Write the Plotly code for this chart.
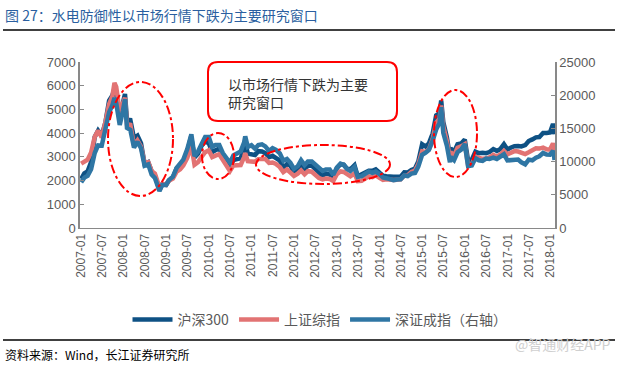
import plotly.graph_objects as go

dates = [
    "2007-01-04","2007-01-31","2007-02-28","2007-03-30","2007-04-30","2007-05-29","2007-06-29","2007-07-31","2007-08-31","2007-09-28","2007-10-16","2007-10-31","2007-11-30","2007-12-28",
    "2008-01-14","2008-01-31","2008-02-29","2008-03-31","2008-04-30","2008-05-30","2008-06-30","2008-07-31","2008-08-29","2008-09-26","2008-10-31","2008-11-04","2008-11-28","2008-12-31",
    "2009-01-23","2009-02-27","2009-03-31","2009-04-30","2009-05-27","2009-06-30","2009-07-31","2009-08-04","2009-08-31","2009-09-30","2009-10-30","2009-11-30","2009-12-31",
    "2010-01-29","2010-02-26","2010-03-31","2010-04-30","2010-05-31","2010-06-30","2010-07-30","2010-08-31","2010-09-30","2010-10-29","2010-11-08","2010-11-30","2010-12-31",
    "2011-01-31","2011-02-28","2011-03-31","2011-04-29","2011-05-31","2011-06-30","2011-07-29","2011-08-31","2011-09-30","2011-10-31","2011-11-30","2011-12-30",
    "2012-01-31","2012-02-29","2012-03-30","2012-04-27","2012-05-31","2012-06-29","2012-07-31","2012-08-31","2012-09-28","2012-10-31","2012-11-30","2012-12-31",
    "2013-01-31","2013-02-28","2013-03-29","2013-04-26","2013-05-31","2013-06-28","2013-07-31","2013-08-30","2013-09-30","2013-10-31","2013-11-29","2013-12-31",
    "2014-01-30","2014-02-28","2014-03-31","2014-04-30","2014-05-30","2014-06-30","2014-07-31","2014-08-29","2014-09-30","2014-10-31","2014-11-28","2014-12-31",
    "2015-01-30","2015-02-27","2015-03-31","2015-04-30","2015-05-29","2015-06-12","2015-06-30","2015-07-31","2015-08-26","2015-08-31","2015-09-30","2015-10-30","2015-11-30","2015-12-31",
    "2016-01-28","2016-02-29","2016-03-31","2016-04-29","2016-05-31","2016-06-30","2016-07-29","2016-08-31","2016-09-30","2016-10-31","2016-11-30","2016-12-30",
    "2017-01-26","2017-02-28","2017-03-31","2017-04-28","2017-05-31","2017-06-30","2017-07-31","2017-08-31","2017-09-29","2017-10-31","2017-11-30","2017-12-29",
    "2018-01-24","2018-01-31","2018-02-06",
]

hs300 = [
    2067,2300,2390,2780,3840,4110,3900,4470,5370,5590,5877,5690,4730,5338,
    5650,4570,4556,3790,3894,3578,2700,2777,2392,2217,1663,1606,1838,1817,
    1990,2140,2520,2700,2800,3220,3810,3800,2980,3130,3460,3650,3575,
    3204,3281,3346,3069,2742,2564,2868,2903,2935,3379,3600,3136,3128,
    3077,3239,3223,3155,2991,3044,2937,2840,2548,2696,2631,2346,
    2464,2635,2455,2627,2632,2462,2333,2204,2293,2254,2140,2523,
    2686,2673,2495,2475,2644,2180,2247,2347,2409,2410,2474,2330,
    2203,2179,2147,2158,2160,2165,2350,2338,2450,2508,2808,3533,
    3434,3572,3986,4749,4841,5380,4473,3817,3026,3366,3203,3534,3566,3731,
    2853,2877,3218,3156,3169,3154,3203,3327,3253,3336,3538,3311,
    3387,3452,3456,3439,3493,3666,3737,3822,3837,4006,4006,4031,
    4390,4275,3950,
]

sh_comp = [
    2716,2786,2881,3183,3841,4109,3820,4471,5218,5552,6124,5954,4871,5262,
    5497,4383,4348,3473,3693,3433,2736,2776,2397,2293,1729,1707,1871,1821,
    1991,2082,2373,2477,2633,2959,3412,3471,2667,2779,2996,3195,3277,
    2989,3052,3110,2870,2593,2398,2638,2639,2656,2979,3159,2820,2808,
    2790,2905,2928,2911,2743,2762,2701,2568,2359,2468,2333,2199,
    2292,2428,2262,2396,2373,2225,2103,2047,2086,2069,1980,2269,
    2385,2365,2237,2177,2300,1979,1994,2098,2175,2141,2220,2116,
    2033,2056,2033,2026,2039,2048,2202,2217,2364,2420,2683,3235,
    3210,3310,3748,4442,4612,5166,4277,3664,2927,3206,3053,3383,3445,3539,
    2656,2688,3004,2938,2917,2930,2979,3085,3005,3100,3250,3104,
    3159,3242,3223,3155,3117,3192,3273,3361,3349,3393,3317,3307,
    3560,3481,3260,
]

sz_comp = [
    6889,7586,7864,8863,11303,12433,12393,15108,17431,18474,19600,18802,15528,17701,
    19400,15082,14766,12098,12994,12016,9385,9585,8051,7530,5799,5577,6500,6486,
    7210,7726,9062,9598,10309,11875,13944,14100,10820,11520,12620,13712,13700,
    12214,12496,12500,11300,10424,9826,10921,11293,11533,12860,13800,12200,12459,
    11946,12498,12604,12297,11600,12033,11778,11240,10123,10400,9810,8919,
    9300,10200,9466,10000,10000,9600,9000,8600,8800,8800,8000,9116,
    9700,9500,8900,8600,9200,7700,7800,8200,8500,8300,8500,8122,
    7600,7500,7400,7200,7300,7340,7900,7800,8200,8300,9250,11015,
    11340,11760,13160,14820,15830,18211,14339,12370,9900,10700,10200,11400,11800,12665,
    9300,9400,10500,10200,10100,10450,10400,10600,10400,10700,11100,10177,
    10200,10250,10300,9900,9600,10300,10200,10600,10800,11300,11050,11040,
    11600,11180,10250,
]

series_names = ["沪深300", "上证综指", "深证成指（右轴）"]
left_ticks = [0, 1000, 2000, 3000, 4000, 5000, 6000, 7000]
right_ticks = [0, 5000, 10000, 15000, 20000, 25000]

FONT = "Liberation Sans, Arial, Noto Sans CJK SC, sans-serif"
CJK = "Noto Sans CJK SC, Liberation Sans, sans-serif"

W, H = 618, 365
L, R, T, B = 80, 63, 62, 137
PW, PH = W - L - R, H - T - B

def px(x):
    return (x - L) / PW

def py(y):
    return (H - B - y) / PH

fig = go.Figure()
fig.add_trace(go.Scatter(x=dates, y=hs300, name=series_names[0], mode="lines",
                         line=dict(color="#0e5184", width=4.5), yaxis="y"))
fig.add_trace(go.Scatter(x=dates, y=sh_comp, name=series_names[1], mode="lines",
                         line=dict(color="#e27373", width=4.5), yaxis="y"))
fig.add_trace(go.Scatter(x=dates, y=sz_comp, name=series_names[2], mode="lines",
                         line=dict(color="#2f76a4", width=4.5), yaxis="y2"))

shapes = []
shapes.append(dict(type="line", xref="paper", yref="paper", x0=px(3), x1=px(615), y0=py(30), y1=py(30),
                   line=dict(color="black", width=1.5)))
shapes.append(dict(type="line", xref="paper", yref="paper", x0=px(3), x1=px(615), y0=py(340), y1=py(340),
                   line=dict(color="black", width=1.5)))
for (x0, x1, y0, y1) in [(108, 173, 82, 196), (202, 234, 133, 179), (256, 390, 145, 184), (434, 477, 90, 177)]:
    shapes.append(dict(type="circle", xref="paper", yref="paper", x0=px(x0), x1=px(x1), y0=py(y1), y1=py(y0),
                       line=dict(color="#ff0000", width=2, dash="dashdot")))
bx0, bx1, by0, by1 = px(208), px(397), py(121), py(62)
rx, ry = 10 / PW, 10 / PH
path = (f"M {bx0+rx},{by1} L {bx1-rx},{by1} Q {bx1},{by1} {bx1},{by1-ry} "
        f"L {bx1},{by0+ry} Q {bx1},{by0} {bx1-rx},{by0} L {bx0+rx},{by0} "
        f"Q {bx0},{by0} {bx0},{by0+ry} L {bx0},{by1-ry} Q {bx0},{by1} {bx0+rx},{by1} Z")
shapes.append(dict(type="path", xref="paper", yref="paper", path=path,
                   line=dict(color="#ff0000", width=2), fillcolor="white"))

annotations = [
    dict(text="图 27：水电防御性以市场行情下跌为主要研究窗口", xref="paper", yref="paper",
         x=px(3), y=py(15), xanchor="left", yanchor="middle", showarrow=False,
         font=dict(family=CJK, size=14, color="#2a5fa0")),
    dict(text="以市场行情下跌为主要<br>研究窗口", xref="paper", yref="paper",
         x=px(226), y=py(93), xanchor="left", yanchor="middle", showarrow=False, align="left",
         font=dict(family=CJK, size=14, color="#333333")),
    dict(text="资料来源：Wind，长江证券研究所", xref="paper", yref="paper",
         x=px(3), y=py(354), xanchor="left", yanchor="middle", showarrow=False,
         font=dict(family=CJK, size=12, color="black")),
    dict(text="@智通财经APP", xref="paper", yref="paper",
         x=px(613), y=py(344), xanchor="right", yanchor="middle", showarrow=False,
         font=dict(family=CJK, size=14, color="#d0d0d0")),
]

fig.update_layout(
    width=W, height=H,
    margin=dict(l=L, r=R, t=T, b=B, autoexpand=False),
    paper_bgcolor="white", plot_bgcolor="white",
    showlegend=True,
    legend=dict(orientation="h", x=px(320), xanchor="center", y=py(320), yanchor="middle",
                font=dict(family=CJK, size=14, color="#595959"), bgcolor="rgba(0,0,0,0)",
                itemwidth=40),
    xaxis=dict(type="date", range=["2006-12-25", "2018-02-10"], tick0="2007-01-01", dtick="M6",
               tickformat="%Y-%m", tickangle=-90, showgrid=False, zeroline=False,
               showline=True, linecolor="#898989", linewidth=1, ticks="",
               tickfont=dict(family=FONT, size=12, color="#595959")),
    yaxis=dict(range=[0, 7000], tickvals=left_ticks, ticktext=[str(v) for v in left_ticks],
               showgrid=False, zeroline=False,
               showline=True, linecolor="#898989", linewidth=1.5, ticks="inside", ticklen=4,
               tickcolor="#898989", tickfont=dict(family=FONT, size=13, color="#595959")),
    yaxis2=dict(range=[0, 25000], tickvals=right_ticks, ticktext=[str(v) for v in right_ticks],
                overlaying="y", side="right",
                showgrid=False, zeroline=False, showline=True, linecolor="#898989", linewidth=1.5,
                ticks="inside", ticklen=4, tickcolor="#898989",
                tickfont=dict(family=FONT, size=13, color="#595959")),
    shapes=shapes,
    annotations=annotations,
)

fig.write_html("out.html", config={"displayModeBar": False},
               post_script="document.body.style.margin='0';document.body.style.overflow='hidden';")
